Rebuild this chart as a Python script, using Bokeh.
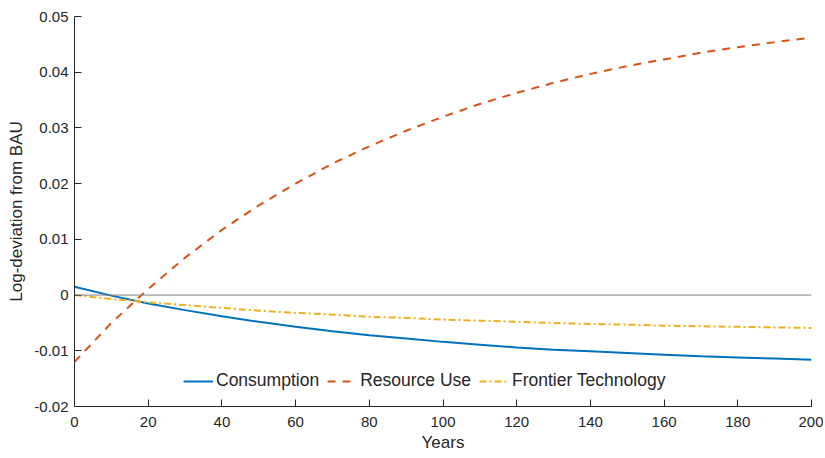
from bokeh.plotting import figure
from bokeh.models import Range1d, FixedTicker, Span, Legend, LegendItem
from bokeh.embed import file_html
from bokeh.resources import INLINE

years = [0, 10, 20, 30, 40, 50, 60, 70, 80, 90, 100,
         110, 120, 130, 140, 150, 160, 170, 180, 190, 200]
consumption = [0.0015, -0.0001, -0.0015, -0.0027, -0.0038, -0.0048, -0.0057,
               -0.0065, -0.0072, -0.0078, -0.0084, -0.0089, -0.0094, -0.0098,
               -0.0101, -0.0104, -0.0107, -0.0110, -0.0112, -0.0114, -0.0116]
resource_use = [-0.0120, -0.0050, 0.0011, 0.0067, 0.0117, 0.0161, 0.0200,
                0.0236, 0.0267, 0.0295, 0.0320, 0.0343, 0.0363, 0.0381,
                0.0397, 0.0411, 0.0423, 0.0435, 0.0445, 0.0454, 0.0462]
frontier_tech = [0.0, -0.0007, -0.0013, -0.0018, -0.0023, -0.0028, -0.0032,
                 -0.0035, -0.0039, -0.0041, -0.0044, -0.0046, -0.0048, -0.0050,
                 -0.0052, -0.0053, -0.0055, -0.0056, -0.0057, -0.0058, -0.0059]

x_ticks = [0, 20, 40, 60, 80, 100, 120, 140, 160, 180, 200]
y_ticks = [-0.02, -0.01, 0.0, 0.01, 0.02, 0.03, 0.04, 0.05]
y_tick_labels = ["-0.02", "-0.01", "0", "0.01", "0.02", "0.03", "0.04", "0.05"]

FONT = "Liberation Sans"
TXT = "#262626"

p = figure(frame_width=737, frame_height=390,
           min_border_left=74, min_border_right=12,
           min_border_top=16, min_border_bottom=44,
           x_range=Range1d(0, 200), y_range=Range1d(-0.02, 0.05),
           output_backend="svg", toolbar_location=None)
p.outline_line_color = None
p.grid.visible = False
p.background_fill_color = "white"
p.border_fill_color = "white"

zero = Span(location=0, dimension="width", line_color="#808080", line_width=1)
p.add_layout(zero)

r1 = p.line(years, consumption, line_color="#0072BD", line_width=2)
r2 = p.line(years, resource_use, line_color="#D95319", line_width=2, line_dash="8 7")
r3 = p.line(years, frontier_tech, line_color="#EDB120", line_width=2, line_dash="7 3 2 3")

for ax in (p.xaxis[0], p.yaxis[0]):
    ax.axis_line_color = TXT
    ax.axis_line_width = 1
    ax.major_tick_line_color = TXT
    ax.major_tick_in = 7
    ax.major_tick_out = 0
    ax.minor_tick_line_color = None
    ax.major_label_text_font = FONT
    ax.major_label_text_font_size = "15px"
    ax.major_label_text_color = TXT
    ax.axis_label_text_font = FONT
    ax.axis_label_text_font_size = "17px"
    ax.axis_label_text_font_style = "normal"
    ax.axis_label_text_color = TXT

p.xaxis.ticker = FixedTicker(ticks=x_ticks)
p.yaxis.ticker = FixedTicker(ticks=y_ticks)
p.yaxis.major_label_overrides = {v: s for v, s in zip(y_ticks, y_tick_labels)}
p.xaxis.axis_label = "Years"
p.yaxis.axis_label = "Log-deviation from BAU"
p.xaxis.major_label_standoff = 10
p.xaxis.axis_label_standoff = 3
p.yaxis.major_label_standoff = 6
p.yaxis.axis_label_standoff = 5

legend = Legend(items=[LegendItem(label="Consumption", renderers=[r1]),
                       LegendItem(label="Resource Use", renderers=[r2]),
                       LegendItem(label="Frontier Technology", renderers=[r3])],
                orientation="horizontal", location=(109, 15),
                padding=0, margin=0, spacing=8, label_standoff=3,
                glyph_width=30, glyph_height=20, label_height=20,
                border_line_color=None, background_fill_alpha=0,
                label_text_font=FONT, label_text_font_size="17.5px",
                label_text_color=TXT)
p.add_layout(legend, "center")

open("out.html", "w").write(file_html(p, INLINE))
